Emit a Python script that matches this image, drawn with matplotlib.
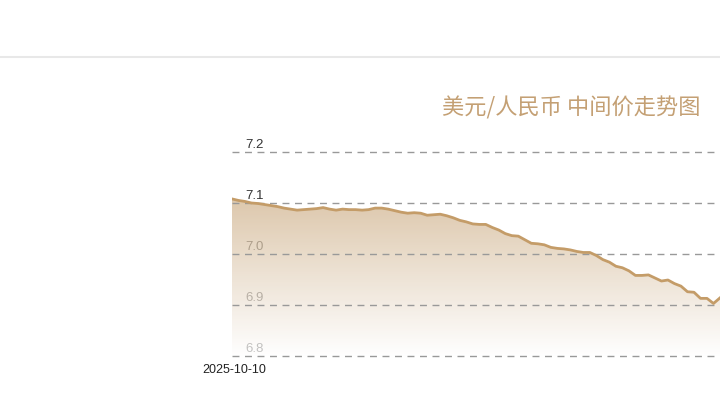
import matplotlib
matplotlib.use("Agg")
import matplotlib.pyplot as plt
import numpy as np
from matplotlib.colors import LinearSegmentedColormap
from matplotlib.patches import Polygon

plt.rcParams['font.family'] = ['Liberation Sans', 'Noto Sans CJK SC', 'DejaVu Sans']

title = "美元/人民币 中间价走势图"
start_label = "2025-10-10"
y_ticks = [6.8, 6.9, 7.0, 7.1, 7.2]
y_tick_labels = ["6.8", "6.9", "7.0", "7.1", "7.2"]
rates = [7.108, 7.105, 7.103, 7.100, 7.099, 7.097, 7.095, 7.093, 7.090, 7.088,
         7.086, 7.087, 7.088, 7.089, 7.091, 7.088, 7.086, 7.088, 7.087, 7.087,
         7.086, 7.087, 7.090, 7.090, 7.088, 7.085, 7.082, 7.080, 7.081, 7.080,
         7.076, 7.077, 7.078, 7.075, 7.071, 7.066, 7.063, 7.059, 7.058, 7.058,
         7.052, 7.047, 7.040, 7.036, 7.035, 7.028, 7.021, 7.020, 7.018, 7.013,
         7.011, 7.010, 7.008, 7.005, 7.003, 7.003, 6.997, 6.989, 6.984, 6.976,
         6.973, 6.967, 6.958, 6.958, 6.959, 6.953, 6.947, 6.949, 6.942, 6.937,
         6.926, 6.925, 6.913, 6.913, 6.903, 6.914]

W, H = 720, 405
fig = plt.figure(figsize=(W / 100, H / 100), dpi=100)
fig.patch.set_facecolor("white")

# top separator line
fig.add_artist(plt.Line2D([0, 1], [1 - 57 / H, 1 - 57 / H], color="#e8e8e8", lw=1.5))

left_px, right_px = 232, 720
top_px, bot_px = 152, 356
ax = fig.add_axes([left_px / W, 1 - bot_px / H, (right_px - left_px) / W, (bot_px - top_px) / H])
ax.set_facecolor("none")
x = np.arange(len(rates))
ax.set_xlim(0, len(rates) - 1)
ax.set_ylim(6.8, 7.2)
ax.axis("off")

# tick labels (under the fill)
for v, lab in zip(y_ticks, y_tick_labels):
    ax.text(0.028, v + 0.002, lab, transform=ax.get_yaxis_transform(), ha="left", va="bottom",
            fontsize=9.5, color="#333333", zorder=1, clip_on=False)

# gradient fill
cmap = LinearSegmentedColormap.from_list("g", [(1, 1, 1), (208 / 255, 178 / 255, 140 / 255)])
grad = np.linspace(0, 1, 256).reshape(-1, 1)
ymax = max(rates)
img = ax.imshow(grad, aspect="auto", cmap=cmap, origin="lower", alpha=0.72,
                extent=[0, len(rates) - 1, 6.8, ymax], zorder=2)
verts = [(0, 6.8)] + list(zip(x, rates)) + [(len(rates) - 1, 6.8)]
poly = Polygon(verts, closed=True, facecolor="none", edgecolor="none", transform=ax.transData)
ax.add_patch(poly)
img.set_clip_path(poly)

# grid lines
for v in y_ticks:
    ax.axhline(v, color="#999999", lw=1, ls=(0, (5, 4)), zorder=3, clip_on=False)

ax.plot(x, rates, color="#c49c68", lw=2, zorder=4, solid_joinstyle="round")

fig.text(234 / W, 1 - 370 / H, start_label, ha="center", va="center", fontsize=9, color="#222222")
fig.text(701 / W, 1 - 108 / H, title, ha="right", va="center", fontsize=16, color="#c4a074",
         family=['Noto Sans CJK SC', 'DejaVu Sans'])

fig.savefig("out.png", dpi=100)
